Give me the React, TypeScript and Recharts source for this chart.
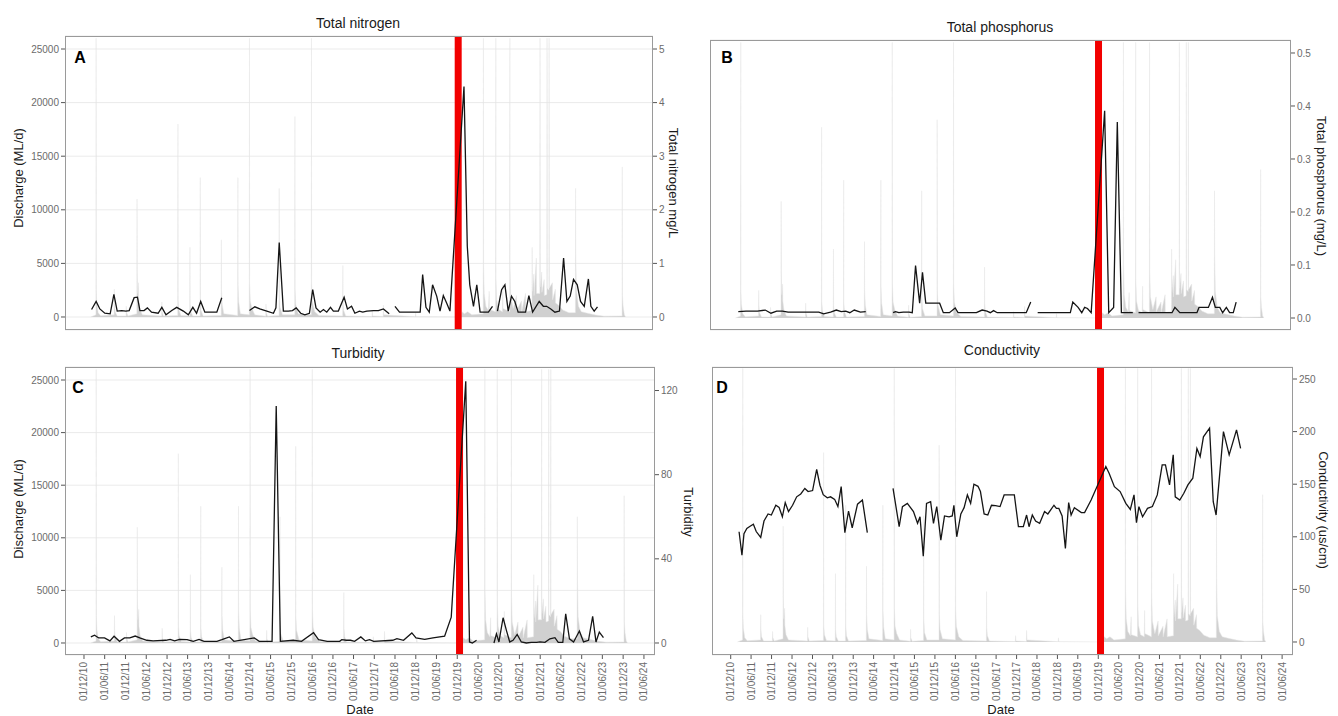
import React from 'react';
import {
  ComposedChart,
  Area,
  Line,
  XAxis,
  YAxis,
  CartesianGrid,
  ReferenceLine,
} from 'recharts';

// time axis in decimal years
const X_DOMAIN: [number, number] = [2010.457, 2024.683];
const RED_AT = 2019.97;

const dateLabels = [
  '01/12/10', '01/06/11', '01/12/11', '01/06/12', '01/12/12', '01/06/13', '01/12/13',
  '01/06/14', '01/12/14', '01/06/15', '01/12/15', '01/06/16', '01/12/16', '01/06/17',
  '01/12/17', '01/06/18', '01/12/18', '01/06/19', '01/12/19', '01/06/20', '01/12/20',
  '01/06/21', '01/12/21', '01/06/22', '01/12/22', '01/06/23', '01/12/23', '01/06/24',
];

const dischargeTicks = [0, 5000, 10000, 15000, 20000, 25000];

// daily discharge (ML/d), [decimal year, flow]
const flow: [number, number][] = [
  [2011.08, 0], [2011.205, 200], [2011.21, 26000], [2011.214, 2600], [2011.225, 1300], [2011.26, 400], [2011.32, 120],
  [2011.645, 200], [2011.65, 2600], [2011.655, 1200], [2011.67, 500], [2011.72, 100],
  [2011.935, 100], [2011.94, 1000], [2011.945, 450], [2011.98, 100],
  [2012.195, 300], [2012.2, 11000], [2012.204, 4200], [2012.215, 2200], [2012.235, 3200], [2012.24, 1600], [2012.27, 700], [2012.33, 200],
  [2012.795, 100], [2012.8, 1400], [2012.805, 500], [2012.84, 100],
  [2013.185, 150], [2013.19, 18000], [2013.194, 1600], [2013.21, 700], [2013.26, 150],
  [2013.475, 100], [2013.48, 6500], [2013.484, 1200], [2013.5, 500], [2013.55, 100],
  [2013.725, 100], [2013.73, 13000], [2013.734, 1500], [2013.75, 600], [2013.8, 100],
  [2014.235, 150], [2014.24, 7200], [2014.244, 2600], [2014.26, 1200], [2014.3, 300],
  [2014.635, 150], [2014.64, 13000], [2014.644, 3000], [2014.66, 1400], [2014.7, 300],
  [2014.915, 200], [2014.92, 26000], [2014.924, 3200], [2014.94, 1500], [2014.98, 800], [2015.05, 200],
  [2015.315, 80], [2015.32, 1200], [2015.325, 400], [2015.36, 80],
  [2015.635, 150], [2015.64, 12000], [2015.644, 2200], [2015.66, 900], [2015.72, 200],
  [2016.015, 200], [2016.02, 18700], [2016.024, 2600], [2016.04, 1200], [2016.1, 300],
  [2016.415, 200], [2016.42, 26000], [2016.424, 3200], [2016.44, 1500], [2016.5, 500], [2016.6, 150],
  [2017.175, 100], [2017.18, 4800], [2017.184, 1400], [2017.2, 600], [2017.25, 100],
  [2017.885, 50], [2017.89, 600], [2017.9, 100],
  [2018.155, 50], [2018.16, 1100], [2018.17, 200],
  [2018.935, 30], [2018.94, 400], [2018.95, 30],
  [2020.04, 0], [2020.06, 500], [2020.12, 300], [2020.2, 500], [2020.3, 200],
  [2020.575, 300], [2020.58, 26000], [2020.584, 5000], [2020.6, 2200], [2020.64, 1000], [2020.7, 600], [2020.72, 2400], [2020.725, 700],
  [2020.875, 500], [2020.88, 26000], [2020.884, 3600], [2020.9, 1600], [2020.95, 700], [2021.04, 500], [2021.05, 3000], [2021.055, 800],
  [2021.215, 500], [2021.22, 26000], [2021.224, 4600], [2021.24, 2000], [2021.3, 800], [2021.38, 2000], [2021.385, 600],
  [2021.5, 1500], [2021.505, 500], [2021.6, 2200], [2021.605, 500],
  [2021.755, 600], [2021.76, 6500], [2021.765, 2400], [2021.8, 4000], [2021.805, 2000], [2021.86, 5500], [2021.865, 2200],
  [2021.945, 2200], [2021.95, 26000], [2021.955, 2800], [2021.99, 4200], [2021.995, 2300], [2022.05, 3500], [2022.055, 2000],
  [2022.115, 2100], [2022.12, 26000], [2022.125, 2700], [2022.165, 2500], [2022.17, 26000], [2022.175, 2700],
  [2022.25, 3200], [2022.255, 1600], [2022.32, 2600], [2022.325, 1300], [2022.4, 1100], [2022.5, 650], [2022.65, 400],
  [2022.805, 400], [2022.81, 12000], [2022.815, 6000], [2022.83, 2500], [2022.88, 1000], [2022.95, 500], [2023.1, 350], [2023.3, 180], [2023.5, 80],
  [2023.935, 100], [2023.94, 14000], [2023.944, 2000], [2023.96, 1000], [2023.99, 200], [2024.02, 0],
];

// total nitrogen (mg/L), null = gap in sampling
const tnYears = [
  2011.10, 2011.21, 2011.30, 2011.42, 2011.55, 2011.64, 2011.72, 2011.83, 2011.93, 2012.01,
  2012.13, 2012.21, 2012.27, 2012.37, 2012.45, 2012.55, 2012.71, 2012.80, 2012.90, 2013.04,
  2013.16, 2013.32, 2013.44, 2013.55, 2013.64, 2013.74, 2013.84, 2013.97, 2014.13, 2014.25,
  2014.6,
  2014.92, 2015.05, 2015.17, 2015.34, 2015.50, 2015.56, 2015.64, 2015.74, 2015.86, 2015.96,
  2016.05, 2016.16, 2016.26, 2016.37, 2016.45, 2016.53, 2016.63, 2016.71, 2016.79, 2016.88,
  2016.95, 2017.07, 2017.21, 2017.29, 2017.39, 2017.47, 2017.58, 2017.66, 2017.76, 2017.92,
  2018.04, 2018.16, 2018.30,
  2018.37,
  2018.44, 2018.55, 2018.72, 2018.89, 2019.05, 2019.11, 2019.19, 2019.27, 2019.35, 2019.45,
  2019.53, 2019.61, 2019.69, 2019.77, 2020.11, 2020.19, 2020.25, 2020.34, 2020.42, 2020.50,
  2020.62, 2020.70, 2020.80,
  2020.86,
  2020.92, 2021.02, 2021.10, 2021.18, 2021.26, 2021.34, 2021.42, 2021.55, 2021.60, 2021.68,
  2021.77, 2021.93, 2022.03, 2022.11, 2022.21, 2022.31, 2022.42, 2022.52, 2022.60, 2022.68,
  2022.76, 2022.85, 2022.93, 2023.02, 2023.12, 2023.18, 2023.26, 2023.34,
];
const tnValues = [
  0.14, 0.29, 0.15, 0.07, 0.06, 0.42, 0.11, 0.12, 0.11, 0.12,
  0.36, 0.37, 0.12, 0.12, 0.17, 0.09, 0.07, 0.18, 0.04, 0.12,
  0.18, 0.11, 0.04, 0.18, 0.07, 0.29, 0.09, 0.09, 0.09, 0.36,
  null,
  0.12, 0.19, 0.15, 0.11, 0.07, 0.17, 1.39, 0.11, 0.11, 0.12,
  0.17, 0.07, 0.04, 0.07, 0.51, 0.17, 0.09, 0.14, 0.09, 0.18,
  0.11, 0.11, 0.37, 0.15, 0.2, 0.07, 0.11, 0.09, 0.11, 0.12,
  0.12, 0.15, 0.06,
  null,
  0.2, 0.09, 0.09, 0.09, 0.09, 0.79, 0.18, 0.09, 0.6, 0.39,
  0.11, 0.4, 0.26, 0.11, 4.3, 1.32, 0.6, 0.2, 0.6, 0.09,
  0.09, 0.09, 0.2,
  null,
  0.11, 0.51, 0.6, 0.11, 0.39, 0.29, 0.09, 0.09, 0.09, 0.4,
  0.09, 0.29, 0.2, 0.2, 0.15, 0.09, 0.11, 1.1, 0.29, 0.39,
  0.7, 0.6, 0.29, 0.2, 0.71, 0.2, 0.11, 0.19,
];

// total phosphorus (mg/L)
const tpYears = [
  2011.15, 2011.34, 2011.62, 2011.81, 2011.95, 2012.09, 2012.23, 2012.37, 2012.65, 2012.94,
  2013.12, 2013.24, 2013.41, 2013.55, 2013.67, 2013.78, 2013.88, 2013.99, 2014.14, 2014.27,
  2014.6,
  2014.94, 2015.00, 2015.08, 2015.19, 2015.33, 2015.41, 2015.49, 2015.59, 2015.66, 2015.74,
  2015.85, 2015.99, 2016.08, 2016.17, 2016.32, 2016.46, 2016.53, 2016.79, 2016.98, 2017.12,
  2017.24, 2017.32, 2017.40, 2017.49, 2017.73, 2018.01, 2018.20, 2018.31,
  2018.40,
  2018.48, 2018.67, 2018.95, 2019.28, 2019.34, 2019.47, 2019.56, 2019.63, 2019.70, 2019.79,
  2020.12, 2020.22, 2020.34, 2020.43, 2020.53, 2020.64, 2020.81,
  2020.88,
  2020.95, 2021.20, 2021.49, 2021.77, 2021.84, 2021.96, 2022.19, 2022.38, 2022.43, 2022.57,
  2022.66, 2022.76, 2022.83, 2022.94, 2023.01, 2023.10, 2023.18, 2023.27, 2023.34,
];
const tpValues = [
  0.012, 0.013, 0.013, 0.015, 0.009, 0.013, 0.013, 0.011, 0.011, 0.011,
  0.011, 0.008, 0.011, 0.015, 0.012, 0.013, 0.01, 0.015, 0.011, 0.012,
  null,
  0.01, 0.012, 0.01, 0.011, 0.011, 0.01, 0.099, 0.028, 0.086, 0.028,
  0.028, 0.028, 0.028, 0.01, 0.01, 0.019, 0.01, 0.01, 0.01, 0.015,
  0.013, 0.01, 0.014, 0.01, 0.01, 0.01, 0.01, 0.03,
  null,
  0.01, 0.01, 0.01, 0.01, 0.03, 0.02, 0.01, 0.02, 0.018, 0.01,
  0.391, 0.01, 0.02, 0.37, 0.01, 0.01, 0.01,
  null,
  0.01, 0.01, 0.01, 0.01, 0.02, 0.01, 0.01, 0.01, 0.02, 0.02,
  0.02, 0.039, 0.02, 0.02, 0.01, 0.02, 0.01, 0.01, 0.03,
];

// turbidity
const turbYears = [
  2011.08, 2011.17, 2011.27, 2011.41, 2011.54, 2011.64, 2011.77, 2011.89, 2012.02, 2012.15,
  2012.26, 2012.43, 2012.58, 2012.89, 2012.99, 2013.10, 2013.22, 2013.40, 2013.55, 2013.69,
  2013.81, 2014.12, 2014.24, 2014.42, 2014.53, 2015.02, 2015.14, 2015.45, 2015.55, 2015.65,
  2015.96, 2016.16, 2016.45, 2016.57, 2016.78, 2017.08, 2017.13, 2017.24, 2017.34, 2017.44,
  2017.59, 2017.70, 2017.80, 2017.90, 2018.36, 2018.46, 2018.62, 2018.82, 2018.92, 2019.13,
  2019.33, 2019.61, 2019.77, 2020.12, 2020.21, 2020.28, 2020.38,
  2020.46,
  2020.80, 2020.86, 2020.92, 2021.02, 2021.10, 2021.18, 2021.26, 2021.36, 2021.46, 2021.58,
  2021.70, 2021.83, 2021.91, 2022.03, 2022.15, 2022.27, 2022.35, 2022.46, 2022.53, 2022.62,
  2022.72, 2022.86, 2022.96, 2023.08, 2023.18, 2023.26, 2023.34, 2023.44,
];
const turbValues = [
  2.9, 3.7, 2.4, 2.4, 1.0, 3.2, 0.8, 2.4, 2.4, 3.3,
  2.4, 1.3, 1.0, 1.3, 1.7, 1.0, 1.7, 1.6, 0.8, 1.7,
  0.8, 0.8, 1.6, 2.9, 0.8, 2.4, 0.8, 0.8, 112.6, 0.8,
  1.3, 0.8, 4.9, 1.6, 0.8, 0.8, 1.6, 1.3, 1.3, 0.8,
  2.9, 1.0, 1.6, 0.8, 1.3, 2.1, 1.3, 4.8, 2.4, 1.7,
  2.4, 3.2, 12.3, 124.4, 0.5, 0, 1.3,
  null,
  0, 4.4, 0.5, 12, 6, 0.5, 1.3, 4.1, 0.5, 0,
  0.3, 0.3, 0.5, 0.3, 2, 2.5, 0.3, 0.3, 13.9, 2,
  0.5, 5.7, 0.5, 1.3, 12.7, 0.5, 5.2, 2.5,
];

// conductivity (us/cm)
const condYears = [
  2011.12, 2011.19, 2011.24, 2011.31, 2011.39, 2011.47, 2011.54, 2011.65, 2011.73, 2011.83,
  2011.91, 2012.02, 2012.10, 2012.18, 2012.25, 2012.33, 2012.43, 2012.53, 2012.63, 2012.73,
  2012.81, 2012.92, 2013.02, 2013.10, 2013.18, 2013.28, 2013.36, 2013.46, 2013.54, 2013.62,
  2013.71, 2013.80, 2013.89, 2014.02, 2014.14, 2014.26,
  2014.5,
  2014.89, 2015.04, 2015.12, 2015.24, 2015.39, 2015.49, 2015.55, 2015.63, 2015.71, 2015.81,
  2015.88, 2015.96, 2016.06, 2016.15, 2016.26, 2016.34, 2016.38, 2016.45, 2016.55, 2016.63,
  2016.71, 2016.79, 2016.87, 2016.97, 2017.03, 2017.12, 2017.21, 2017.30, 2017.40, 2017.51,
  2017.61, 2017.86, 2017.96, 2018.08, 2018.16, 2018.22, 2018.30, 2018.38, 2018.48, 2018.60,
  2018.68, 2018.83, 2018.89, 2018.95, 2019.03, 2019.11, 2019.19, 2019.25, 2019.33, 2019.50,
  2019.58, 2019.74, 2020.10, 2020.18, 2020.31, 2020.45, 2020.59, 2020.70, 2020.79, 2020.85,
  2020.91, 2021.00, 2021.12, 2021.24, 2021.36, 2021.48, 2021.56, 2021.66, 2021.75, 2021.80,
  2021.91, 2022.01, 2022.11, 2022.23, 2022.33, 2022.41, 2022.49, 2022.64, 2022.73, 2022.80,
  2022.98, 2023.12, 2023.30, 2023.40,
];
const condValues = [
  104.8, 82.6, 103, 108, 110, 112, 105, 99.4, 115, 121.7,
  120.7, 130, 128, 119, 132.5, 124, 130, 138, 140.7, 146,
  143, 144, 164, 149, 140, 137, 138, 135.6, 128.7, 147.7,
  104, 124.5, 108.6, 131, 135, 104,
  null,
  146, 109.6, 128.7, 131.8, 124, 112.8, 119, 81.6, 131.8, 133.4,
  112.8, 128.7, 96.9, 119.8, 119, 119.8, 130, 100, 121.7, 127.7,
  139.8, 131.8, 150, 148, 143, 121.7, 120.7, 130, 129.6, 128.7,
  139.8, 139.8, 109.6, 109.6, 120.7, 109.6, 120.7, 115, 112.8, 124,
  121.7, 130, 127, 127, 119.8, 89, 132.5, 120.7, 127.7, 123,
  123, 135, 166.8, 160.4, 147.7, 143, 131.8, 126, 139.8, 113.4,
  128.7, 119, 127, 128.7, 139.8, 168.4, 168.4, 149.3, 177.9, 138,
  135, 141.4, 149.3, 155.7, 184, 176.3, 195, 203.3, 133.4, 120.7,
  200, 177.9, 201.7, 184,
];

const toYear = (label: string) => {
  const [d, m, yy] = label.split('/').map(Number);
  const y = 2000 + yy;
  const doy = (Date.UTC(y, m - 1, d) - Date.UTC(y, 0, 1)) / 86400000;
  return y + doy / 365;
};
const tickYears = dateLabels.map(toYear);

const flowRows = flow.map(([t, q]) => ({ t, q }));
const rows = (ts: number[], vs: (number | null)[]) => ts.map((t, i) => ({ t, v: vs[i] }));

const FONT = '"Liberation Sans", Arial, Helvetica, sans-serif';
const TICK_COLOR = '#6b6b6b';

function DateTick(props: any) {
  const { x, y, payload } = props;
  let idx = 0;
  tickYears.forEach((ty, i) => {
    if (Math.abs(ty - payload.value) < Math.abs(tickYears[idx] - payload.value)) idx = i;
  });
  return (
    <text
      x={x}
      y={y + 1}
      transform={`rotate(-90, ${x}, ${y + 1})`}
      textAnchor="end"
      dominantBaseline="central"
      fontSize={10}
      fill={TICK_COLOR}
      fontFamily={FONT}
    >
      {dateLabels[idx]}
    </text>
  );
}

type Box = { x: number; y: number; w: number; h: number };
type Plot = { l: number; t: number; r: number; b: number };

interface PanelProps {
  box: Box;
  plot: Plot;
  qDomain: [number, number];
  factor: number;
  cTicks: number[];
  cFormat?: (v: number) => string;
  data: { t: number; v: number | null }[];
  leftLabels: boolean;
  dates: boolean;
}

function Panel({ box, plot, qDomain, factor, cTicks, cFormat, data, leftLabels, dates }: PanelProps) {
  const cDomain: [number, number] = [qDomain[0] / factor, qDomain[1] / factor];
  return (
    <div style={{ position: 'absolute', left: box.x, top: box.y, width: box.w, height: box.h }}>
      <ComposedChart
        width={box.w}
        height={box.h}
        margin={{ top: plot.t - box.y, right: 0, bottom: 0, left: 0 }}
        style={{ fontFamily: FONT }}
      >
        <CartesianGrid yAxisId="q" vertical={false} stroke="#ebebeb" strokeWidth={1} />
        <XAxis
          type="number"
          dataKey="t"
          domain={X_DOMAIN}
          allowDataOverflow
          ticks={tickYears}
          interval={0}
          height={box.y + box.h - plot.b}
          axisLine={false}
          tickSize={4}
          tickLine={{ stroke: '#555' }}
          tick={dates ? <DateTick /> : false}
        />
        <YAxis
          yAxisId="q"
          orientation="left"
          width={plot.l - box.x}
          domain={qDomain}
          allowDataOverflow
          ticks={dischargeTicks}
          interval={0}
          axisLine={false}
          tickSize={4}
          tickLine={{ stroke: '#555' }}
          tick={leftLabels ? { fill: TICK_COLOR, fontSize: 10 } : false}
        />
        <YAxis
          yAxisId="c"
          orientation="right"
          width={box.x + box.w - plot.r}
          domain={cDomain}
          allowDataOverflow
          ticks={cTicks}
          interval={0}
          axisLine={false}
          tickSize={4}
          tickLine={{ stroke: '#555' }}
          tickFormatter={cFormat}
          tick={{ fill: TICK_COLOR, fontSize: 10, textAnchor: 'start' }}
        />
        <Area
          yAxisId="q"
          data={flowRows}
          dataKey="q"
          type="linear"
          baseValue={0}
          stroke="#e6e6e6"
          strokeWidth={0.5}
          fill="#cbcbcb"
          fillOpacity={0.9}
          isAnimationActive={false}
          dot={false}
          activeDot={false}
        />
        <ReferenceLine yAxisId="q" x={RED_AT} stroke="#f20000" strokeWidth={7} />
        <Line
          yAxisId="c"
          data={data}
          dataKey="v"
          type="linear"
          stroke="#151515"
          strokeWidth={1.3}
          dot={false}
          activeDot={false}
          connectNulls={false}
          isAnimationActive={false}
        />
      </ComposedChart>
      <div
        style={{
          position: 'absolute',
          left: plot.l - box.x,
          top: plot.t - box.y,
          width: plot.r - plot.l,
          height: plot.b - plot.t,
          border: '1px solid #9a9a9a',
          boxSizing: 'border-box',
          pointerEvents: 'none',
        }}
      />
    </div>
  );
}

function Txt({ x, y, rot = 0, size = 13, weight = 400, color = '#1a1a1a', children }: any) {
  return (
    <div
      style={{
        position: 'absolute',
        left: x,
        top: y,
        transform: `translate(-50%, -50%) rotate(${rot}deg)`,
        fontSize: size,
        fontWeight: weight,
        color,
        whiteSpace: 'nowrap',
        lineHeight: 1,
        fontFamily: FONT,
      }}
    >
      {children}
    </div>
  );
}

export default function App() {
  return (
    <div style={{ position: 'absolute', left: 0, top: 0, width: 1338, height: 716, background: '#fff', overflow: 'hidden' }}>
      <Panel
        box={{ x: 0, y: 30, w: 690, h: 315 }}
        plot={{ l: 65, t: 36, r: 653, b: 330 }}
        qDomain={[-1213, 26213]}
        factor={5000}
        cTicks={[0, 1, 2, 3, 4, 5]}
        data={rows(tnYears, tnValues)}
        leftLabels
        dates={false}
      />
      <Panel
        box={{ x: 690, y: 30, w: 648, h: 315 }}
        plot={{ l: 710, t: 40, r: 1291, b: 330 }}
        qDomain={[-1132, 26226]}
        factor={50000}
        cTicks={[0, 0.1, 0.2, 0.3, 0.4, 0.5]}
        cFormat={(v: number) => v.toFixed(1)}
        data={rows(tpYears, tpValues)}
        leftLabels={false}
        dates={false}
      />
      <Panel
        box={{ x: 0, y: 345, w: 690, h: 371 }}
        plot={{ l: 65, t: 367, r: 655, b: 655 }}
        qDomain={[-1141, 26236]}
        factor={200}
        cTicks={[0, 40, 80, 120]}
        data={rows(turbYears, turbValues)}
        leftLabels
        dates
      />
      <Panel
        box={{ x: 690, y: 345, w: 648, h: 371 }}
        plot={{ l: 712, t: 367, r: 1293, b: 655 }}
        qDomain={[-1236, 26141]}
        factor={100}
        cTicks={[0, 50, 100, 150, 200, 250]}
        data={rows(condYears, condValues)}
        leftLabels={false}
        dates
      />

      <Txt x={358} y={23} size={14}>Total nitrogen</Txt>
      <Txt x={1000} y={27} size={14}>Total phosphorus</Txt>
      <Txt x={358} y={353} size={14}>Turbidity</Txt>
      <Txt x={1002} y={350} size={14}>Conductivity</Txt>

      <Txt x={80} y={58} size={16} weight={700} color="#000">A</Txt>
      <Txt x={727} y={58} size={16} weight={700} color="#000">B</Txt>
      <Txt x={78} y={388} size={16} weight={700} color="#000">C</Txt>
      <Txt x={722} y={388} size={16} weight={700} color="#000">D</Txt>

      <Txt x={18} y={178} rot={-90}>Discharge (ML/d)</Txt>
      <Txt x={18} y={509} rot={-90}>Discharge (ML/d)</Txt>
      <Txt x={673} y={183} rot={90}>Total nitrogen mg/L</Txt>
      <Txt x={1321} y={186} rot={90}>Total phosphorus (mg/L)</Txt>
      <Txt x={688} y={512} rot={90}>Turbidity</Txt>
      <Txt x={1323} y={510} rot={90}>Conductivity (us/cm)</Txt>

      <Txt x={360} y={709}>Date</Txt>
      <Txt x={1001} y={709}>Date</Txt>
    </div>
  );
}
